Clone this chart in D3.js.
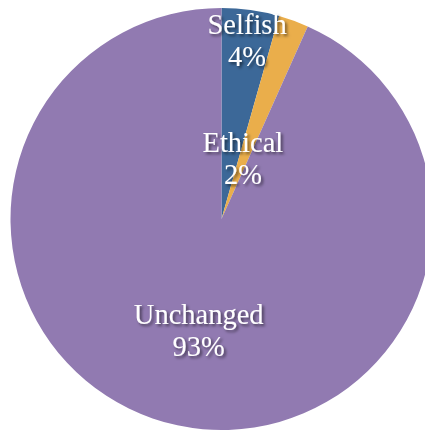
<!DOCTYPE html>
<html>
<head>
<meta charset="utf-8">
<script src="https://cdn.jsdelivr.net/npm/d3@7"></script>
<style>
  html, body { margin: 0; padding: 0; background: #ffffff; overflow: hidden; }
  svg { display: block; }
</style>
</head>
<body>
<script>
// Data
const categories = ["Selfish", "Ethical", "Unchanged"];
const values = [4.4, 2.3, 93.3];
const percentLabels = ["4%", "2%", "93%"];
const colors = ["#3C6898", "#EAAE4B", "#917AB1"];

// Layout
const width = 425, height = 431;
const cx = 221.5, cy = 219, radius = 211;
const labelRadiusFactor = [0.81, 0.255, 0.585];
const labelDx = [2, 3, 3];
const fontSize = 28.5;

const svg = d3.select("body").append("svg")
  .attr("width", width).attr("height", height);

const defs = svg.append("defs");
const f = defs.append("filter").attr("id", "shadow")
  .attr("x", "-20%").attr("y", "-20%").attr("width", "140%").attr("height", "140%");
f.append("feDropShadow").attr("dx", 2).attr("dy", 2).attr("stdDeviation", 1.6)
  .attr("flood-color", "#000").attr("flood-opacity", 0.55);

const g = svg.append("g").attr("transform", `translate(${cx},${cy})`);

const pie = d3.pie().sort(null).value(d => d.value).startAngle(0).endAngle(2 * Math.PI);
const data = categories.map((c, i) => ({ name: c, value: values[i], label: percentLabels[i], color: colors[i], rf: labelRadiusFactor[i], dx: labelDx[i] }));
const arcs = pie(data);

const arc = d3.arc().innerRadius(0).outerRadius(radius);

g.selectAll("path.slice").data(arcs).enter().append("path")
  .attr("class", "slice")
  .attr("d", arc)
  .attr("fill", d => d.data.color);

const labels = g.selectAll("g.lbl").data(arcs).enter().append("g")
  .attr("class", "lbl")
  .attr("filter", "url(#shadow)")
  .attr("transform", d => {
    const a = (d.startAngle + d.endAngle) / 2;
    const r = radius * d.data.rf;
    return `translate(${r * Math.sin(a) + d.data.dx},${-r * Math.cos(a)})`;
  });

labels.append("text")
  .attr("text-anchor", "middle")
  .attr("y", -16)
  .style("font-family", "'Liberation Serif', 'Times New Roman', serif")
  .style("font-size", fontSize + "px")
  .attr("fill", "#ffffff")
  .text(d => d.data.name);

labels.append("text")
  .attr("text-anchor", "middle")
  .attr("y", 16)
  .style("font-family", "'Liberation Serif', 'Times New Roman', serif")
  .style("font-size", fontSize + "px")
  .attr("fill", "#ffffff")
  .text(d => d.data.label);
</script>
</body>
</html>
